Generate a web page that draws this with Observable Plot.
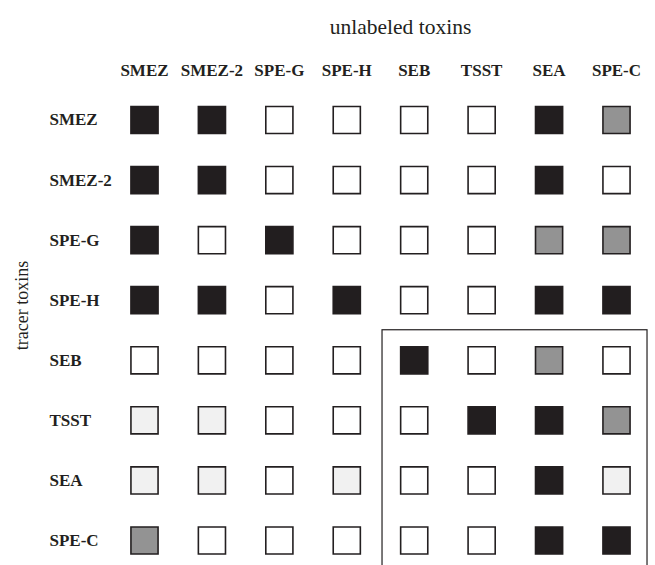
<!DOCTYPE html>
<html>
<head>
<meta charset="utf-8">
<script src="https://cdn.jsdelivr.net/npm/d3@7"></script>
<script src="https://cdn.jsdelivr.net/npm/@observablehq/plot@0.6"></script>
<style>
  html, body { margin: 0; padding: 0; background: #fff; overflow: hidden; }
  #chart svg { display: block; }
</style>
</head>
<body>
<div id="chart"></div>
<script>
// unlabeled toxins (columns) and tracer toxins (rows)
const unlabeled = ["SMEZ", "SMEZ-2", "SPE-G", "SPE-H", "SEB", "TSST", "SEA", "SPE-C"];
const tracers   = ["SMEZ", "SMEZ-2", "SPE-G", "SPE-H", "SEB", "TSST", "SEA", "SPE-C"];

// competition level per tracer row: 0 none, 1 weak, 2 partial, 3 strong
const rowSMEZ  = [3, 3, 0, 0, 0, 0, 3, 2];
const rowSMEZ2 = [3, 3, 0, 0, 0, 0, 3, 0];
const rowSPEG  = [3, 0, 3, 0, 0, 0, 2, 2];
const rowSPEH  = [3, 3, 0, 3, 0, 0, 3, 3];
const rowSEB   = [0, 0, 0, 0, 3, 0, 2, 0];
const rowTSST  = [1, 1, 0, 0, 0, 3, 3, 2];
const rowSEA   = [1, 1, 0, 1, 0, 0, 3, 1];
const rowSPEC  = [2, 0, 0, 0, 0, 0, 3, 3];

const levels = [0, 1, 2, 3];
const levelColors = ["#ffffff", "#f1f1f1", "#939393", "#221e1f"];

const rowsData = [rowSMEZ, rowSMEZ2, rowSPEG, rowSPEH, rowSEB, rowTSST, rowSEA, rowSPEC];
const cells = [];
rowsData.forEach((vals, r) => vals.forEach((v, c) => cells.push({row: r, col: c, level: v})));

// highlighted block: tracers SEB..SPE-C vs unlabeled SEB..SPE-C
const box = [{
  x1: unlabeled.indexOf("SEB") - 0.47,
  x2: unlabeled.length - 1 + 0.46,
  y1: tracers.indexOf("SEB") - 0.5,
  y2: tracers.length + 0.5
}];

const idx = d3.range(unlabeled.length);
const ink = "#231f20";

const chart = Plot.plot({
  width: 655,
  height: 565,
  marginTop: 80,
  marginLeft: 145,
  marginRight: 0,
  marginBottom: 35,
  style: {fontFamily: "'Liberation Serif', 'Times New Roman', serif", color: ink, background: "#fff"},
  x: {domain: [0, 7], range: [144, 616], axis: null},
  y: {domain: [0, 7], range: [119.5, 540], axis: null},
  color: {type: "ordinal", domain: levels, range: levelColors},
  marks: [
    Plot.axisX({anchor: "top", ticks: idx, tickFormat: i => unlabeled[i], tickSize: 0, tickPadding: 5,
      fontWeight: "bold", fontSize: 17, label: null}),
    Plot.axisX({anchor: "top", ticks: [], label: "unlabeled toxins", labelAnchor: "center",
      labelOffset: 62, labelArrow: "none", fontSize: 21.5}),
    Plot.axisY({anchor: "left", ticks: idx, tickFormat: i => tracers[i], tickSize: 0, tickPadding: 96,
      textAnchor: "start", fontWeight: "bold", fontSize: 17, label: null}),
    Plot.axisY({anchor: "left", ticks: [], label: "tracer toxins", labelAnchor: "center",
      labelOffset: 130, labelArrow: "none", fontSize: 18}),
    Plot.rect(box, {x1: "x1", x2: "x2", y1: "y1", y2: "y2", fill: "none", stroke: ink, strokeWidth: 1.2}),
    Plot.dot(cells, {x: "col", y: "row", symbol: "square", r: 15.3, fill: d => d.level,
      stroke: ink, strokeWidth: 1.6})
  ]
});
document.getElementById("chart").append(chart);
</script>
</body>
</html>
